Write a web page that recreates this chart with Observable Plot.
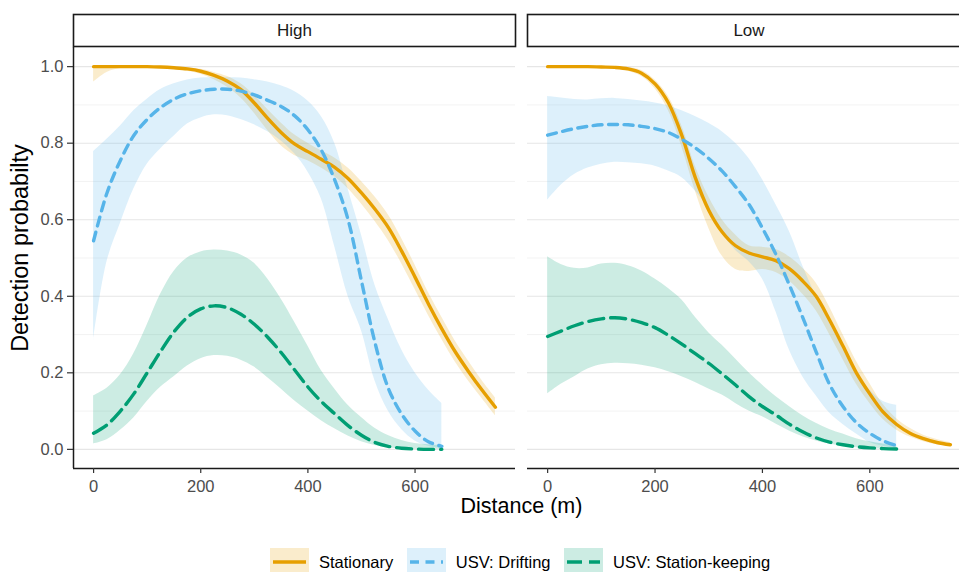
<!DOCTYPE html>
<html>
<head>
<meta charset="utf-8">
<script src="https://cdn.jsdelivr.net/npm/d3@7"></script>
<script src="https://cdn.jsdelivr.net/npm/@observablehq/plot@0.6"></script>
<style>
  html, body { margin: 0; padding: 0; background: #fff; overflow: hidden; }
  body { width: 959px; height: 572px; position: relative; font-family: "Liberation Sans", Arial, sans-serif; }
  #leftPanel { position: absolute; left: 0; top: 0; width: 515px; }
  #rightPanel { position: absolute; left: 515px; top: 0; width: 455px; }
  #xtitle { position: absolute; left: 521.5px; top: 496px; transform: translateX(-50%); font-size: 21.5px; line-height: 1; color: #000; white-space: nowrap; }
  #ytitle { position: absolute; left: 21px; top: 248px; transform: translate(-50%, -50%) rotate(-90deg); font-size: 23.5px; line-height: 1; color: #000; white-space: nowrap; }
  #legend { position: absolute; left: 270px; top: 548px; height: 28px; display: flex; align-items: center; font-size: 16.5px; color: #000; white-space: nowrap; }
  .key { width: 39px; height: 28px; display: block; }
  .lab { margin-left: 10px; margin-right: 13.5px; }
</style>
</head>
<body>
<div id="leftPanel"></div>
<div id="rightPanel"></div>
<div id="xtitle">Distance (m)</div>
<div id="ytitle">Detection probabilty</div>
<div id="legend"></div>
<script>
// ---------------- data ----------------
const panels = ["High", "Low"];
const groups = ["Stationary", "USV: Drifting", "USV: Station-keeping"];
const xTicks = [0, 200, 400, 600];
const yMajor = [0, 0.2, 0.4, 0.6, 0.8, 1.0];
const yMinor = [0.1, 0.3, 0.5, 0.7, 0.9];

const distStationary = [0,25,50,75,100,125,150,175,200,225,250,275,300,325,350,375,400,425,450,475,500,525,550,575,600,625,650,675,700,725,750];
const distUSV = [0,25,50,75,100,125,150,175,200,225,250,275,300,325,350,375,400,425,450,475,500,525,550,575,600,625,650];

// High
const highStatFit = [1.0,1.0,1.0,1.0,1.0,0.999,0.997,0.994,0.988,0.977,0.962,0.94,0.905,0.865,0.828,0.798,0.778,0.758,0.737,0.708,0.67,0.628,0.58,0.518,0.45,0.38,0.315,0.255,0.203,0.155,0.11];
const highStatLo  = [0.96,0.985,0.995,0.997,0.997,0.996,0.993,0.988,0.98,0.966,0.946,0.918,0.878,0.833,0.793,0.768,0.754,0.735,0.712,0.681,0.641,0.596,0.546,0.485,0.418,0.35,0.287,0.228,0.178,0.133,0.088];
const highStatHi  = [1.0,1.0,1.0,1.0,1.0,1.0,0.999,0.997,0.993,0.985,0.974,0.955,0.925,0.888,0.853,0.822,0.8,0.78,0.761,0.735,0.7,0.66,0.613,0.551,0.482,0.41,0.345,0.283,0.23,0.18,0.135];

const highDriftFit = [0.545,0.67,0.755,0.82,0.862,0.893,0.915,0.929,0.937,0.941,0.941,0.936,0.926,0.912,0.896,0.872,0.835,0.782,0.704,0.6,0.44,0.28,0.16,0.092,0.048,0.02,0.008];
const highDriftLo  = [0.285,0.49,0.59,0.68,0.745,0.785,0.818,0.85,0.866,0.874,0.872,0.862,0.848,0.83,0.806,0.773,0.725,0.655,0.53,0.4,0.31,0.18,0.1,0.052,0.022,0.008,0.002];
const highDriftHi  = [0.778,0.81,0.845,0.885,0.915,0.94,0.955,0.965,0.97,0.971,0.971,0.97,0.966,0.96,0.95,0.935,0.91,0.87,0.8,0.68,0.56,0.43,0.34,0.26,0.2,0.155,0.12];

const highKeepFit = [0.042,0.064,0.1,0.145,0.2,0.256,0.307,0.345,0.367,0.375,0.37,0.353,0.327,0.293,0.253,0.208,0.163,0.125,0.093,0.062,0.037,0.018,0.008,0.003,0.001,0.0,0.0];
const highKeepLo  = [0.014,0.025,0.05,0.082,0.125,0.162,0.19,0.218,0.237,0.245,0.243,0.233,0.215,0.187,0.158,0.127,0.1,0.075,0.054,0.035,0.02,0.01,0.004,0.001,0,0,0];
const highKeepHi  = [0.14,0.16,0.195,0.25,0.325,0.405,0.465,0.5,0.516,0.521,0.518,0.508,0.486,0.445,0.393,0.333,0.27,0.206,0.158,0.115,0.083,0.055,0.036,0.023,0.015,0.012,0.01];

// Low
const lowStatFit = [1.0,1.0,1.0,1.0,0.999,0.998,0.994,0.983,0.955,0.905,0.82,0.71,0.625,0.568,0.532,0.513,0.503,0.493,0.472,0.44,0.4,0.338,0.27,0.2,0.145,0.097,0.065,0.042,0.028,0.018,0.012];
const lowStatLo  = [0.998,0.999,0.999,0.998,0.996,0.994,0.988,0.974,0.942,0.885,0.79,0.675,0.578,0.505,0.47,0.465,0.47,0.462,0.44,0.405,0.362,0.3,0.235,0.17,0.12,0.078,0.05,0.032,0.02,0.012,0.007];
const lowStatHi  = [1.0,1.0,1.0,1.0,1.0,1.0,0.998,0.99,0.965,0.922,0.845,0.74,0.66,0.6,0.56,0.532,0.528,0.522,0.503,0.473,0.435,0.372,0.3,0.23,0.172,0.117,0.08,0.055,0.037,0.026,0.018];

const lowDriftFit = [0.821,0.83,0.838,0.844,0.848,0.849,0.848,0.844,0.838,0.828,0.81,0.788,0.76,0.727,0.686,0.64,0.578,0.51,0.43,0.345,0.255,0.17,0.112,0.07,0.042,0.022,0.01];
const lowDriftLo  = [0.651,0.69,0.718,0.735,0.745,0.75,0.749,0.746,0.74,0.727,0.71,0.675,0.63,0.565,0.52,0.49,0.445,0.36,0.26,0.19,0.14,0.095,0.065,0.04,0.018,0.008,0.002];
const lowDriftHi  = [0.922,0.918,0.914,0.913,0.916,0.917,0.914,0.91,0.905,0.897,0.885,0.87,0.852,0.83,0.8,0.76,0.705,0.64,0.57,0.48,0.4,0.33,0.265,0.2,0.155,0.125,0.115];

const lowKeepFit = [0.295,0.309,0.323,0.334,0.341,0.344,0.34,0.331,0.318,0.298,0.275,0.25,0.225,0.197,0.168,0.138,0.112,0.09,0.066,0.046,0.03,0.019,0.012,0.007,0.004,0.002,0.001];
const lowKeepLo  = [0.145,0.17,0.19,0.21,0.221,0.225,0.224,0.22,0.213,0.203,0.19,0.175,0.158,0.142,0.12,0.1,0.085,0.066,0.048,0.033,0.022,0.014,0.008,0.004,0.002,0.001,0];
const lowKeepHi  = [0.503,0.483,0.473,0.474,0.484,0.486,0.48,0.466,0.445,0.42,0.39,0.345,0.305,0.272,0.236,0.2,0.168,0.138,0.112,0.088,0.068,0.052,0.04,0.028,0.02,0.014,0.01];

// ---------------- styles ----------------
const seriesStyle = {
  "Stationary": {color: "#E69F00", dash: null},
  "USV: Drifting": {color: "#56B4E9", dash: "9,6.5"},
  "USV: Station-keeping": {color: "#009E73", dash: "15,7"}
};

// ---------------- table ----------------
const source = [
  ["High", "Stationary", distStationary, highStatFit, highStatLo, highStatHi],
  ["High", "USV: Drifting", distUSV, highDriftFit, highDriftLo, highDriftHi],
  ["High", "USV: Station-keeping", distUSV, highKeepFit, highKeepLo, highKeepHi],
  ["Low", "Stationary", distStationary, lowStatFit, lowStatLo, lowStatHi],
  ["Low", "USV: Drifting", distUSV, lowDriftFit, lowDriftLo, lowDriftHi],
  ["Low", "USV: Station-keeping", distUSV, lowKeepFit, lowKeepLo, lowKeepHi]
];
const table = [];
for (const [panel, group, dist, fit, lo, hi] of source) {
  dist.forEach((d, i) => table.push({panel, group, d, fit: fit[i], lo: lo[i], hi: hi[i]}));
}

const xDomain = [-37.5, 787.5];
const yDomain = [-0.05, 1.05];

function makePanel(name, showY) {
  const rows = table.filter(r => r.panel === name);
  const marks = [
    Plot.ruleY(yMinor, {stroke: "#eeeeee", strokeWidth: 0.7}),
    Plot.ruleY(yMajor, {stroke: "#e6e6e6", strokeWidth: 1.1})
  ];
  for (const g of groups) {
    marks.push(Plot.areaY(rows.filter(r => r.group === g), {
      x: "d", y1: "lo", y2: "hi", fill: seriesStyle[g].color, fillOpacity: 0.2, curve: "catmull-rom"
    }));
  }
  for (const g of groups) {
    marks.push(Plot.line(rows.filter(r => r.group === g), {
      x: "d", y: "fit", stroke: seriesStyle[g].color, strokeWidth: 3.4,
      strokeDasharray: seriesStyle[g].dash, curve: "catmull-rom"
    }));
  }
  marks.push(Plot.ruleY([yDomain[0]], {stroke: "#1a1a1a", strokeWidth: 1.5}));
  if (showY) marks.push(Plot.ruleX([xDomain[0]], {stroke: "#1a1a1a", strokeWidth: 1.5}));
  marks.push(Plot.axisX({ticks: xTicks, tickSize: 5, tickPadding: 7, label: null, color: "#4d4d4d", stroke: "#333333", strokeWidth: 1.2}));
  if (showY) marks.push(Plot.axisY({ticks: yMajor, tickFormat: d3.format(".1f"), tickSize: 6, tickPadding: 4, label: null, color: "#4d4d4d", stroke: "#333333", strokeWidth: 1.2}));
  marks.push(Plot.frame({insetTop: -33, insetBottom: 422, stroke: "#1a1a1a", strokeWidth: 1.6}));
  marks.push(Plot.text([name], {text: d => d, frameAnchor: "top", dy: -16.5, lineAnchor: "middle", fontSize: 17, fill: "#1a1a1a"}));
  return Plot.plot({
    width: showY ? 515 : 455,
    height: 500,
    marginLeft: showY ? 73 : 12,
    marginRight: 0,
    marginTop: 47,
    marginBottom: 32,
    x: {domain: xDomain, axis: null},
    y: {domain: yDomain, axis: null},
    style: {fontFamily: "'Liberation Sans', Arial, sans-serif", fontSize: "16.5px", background: "transparent", maxWidth: "none", overflow: "visible", color: "#4d4d4d"},
    marks
  });
}

document.getElementById("leftPanel").appendChild(makePanel(panels[0], true));
document.getElementById("rightPanel").appendChild(makePanel(panels[1], false));

// ---------------- legend ----------------
const legend = d3.select("#legend");
for (const g of groups) {
  const s = seriesStyle[g];
  const svg = legend.append("svg").attr("class", "key").attr("width", 39).attr("height", 28);
  svg.append("rect").attr("width", 39).attr("height", 28).attr("fill", s.color).attr("fill-opacity", 0.2);
  svg.append("line").attr("x1", 3).attr("x2", 36).attr("y1", 14).attr("y2", 14)
    .attr("stroke", s.color).attr("stroke-width", 3.4)
    .attr("stroke-dasharray", s.dash);
  legend.append("span").attr("class", "lab").text(g);
}
</script>
</body>
</html>
